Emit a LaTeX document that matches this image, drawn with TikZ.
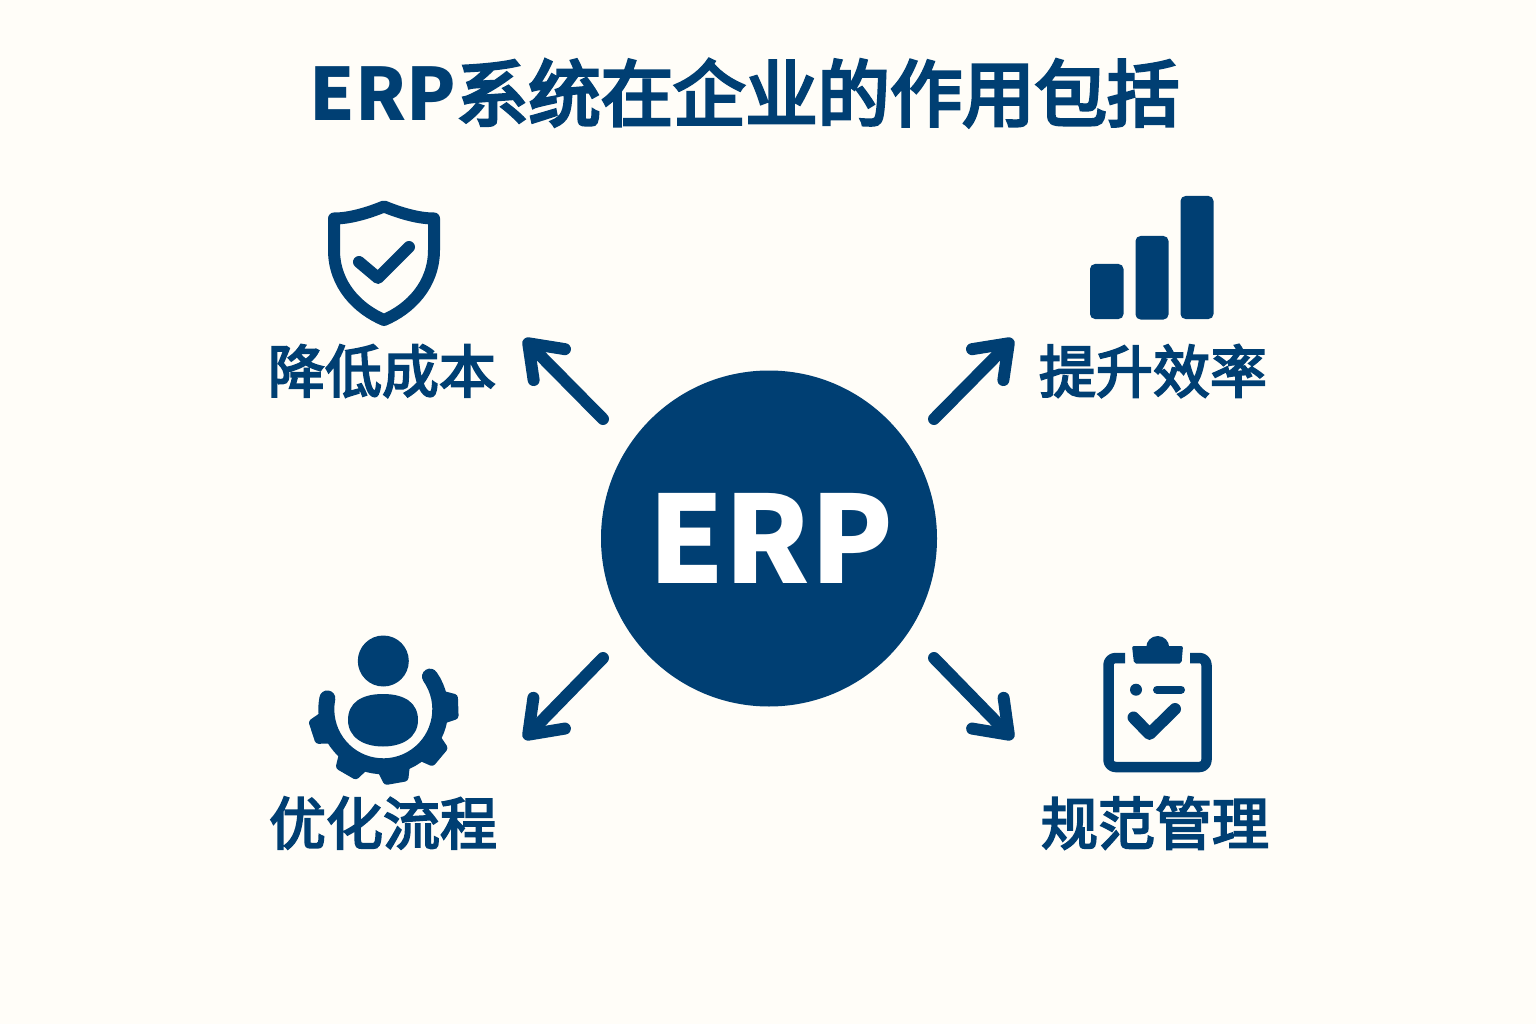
\documentclass[tikz,border=0pt]{standalone}
\usepackage{fontspec}
\usetikzlibrary{arrows.meta}
\newfontfamily\cjk[FakeBold=3.5]{Noto Sans CJK SC}
\newfontfamily\cjkt[FakeBold=4.5]{Noto Sans CJK SC}
\newfontfamily\cjkb{Noto Sans CJK SC}
\definecolor{navy}{HTML}{003F73}
\definecolor{paper}{HTML}{FFFDF8}
\tikzset{
  ink/.style={draw=navy,line width=12pt,line cap=round,line join=round},
  lbl/.style={text=navy,font=\cjk\fontsize{57}{60}\selectfont,inner sep=0pt},
  conn/.style={draw=navy,line width=12pt,line cap=round,-{Straight Barb[round,length=30pt,width=44pt]}},
  bar/.style={fill=navy,rounded corners=5pt},
  tooth/.style={fill=navy,rounded corners=3pt}
}
\begin{document}
\begin{tikzpicture}[x=1pt,y=-1pt]
\useasboundingbox (0,0) rectangle (1536,1024);
\fill[paper] (0,0) rectangle (1536,1024);
\node[text=navy,font=\cjkt\fontsize{72.3}{76}\selectfont,inner sep=0pt] (title) at (744.5,93) {{\cjkb\bfseries ERP}系统在企业的作用包括};
\node[circle,fill=navy,minimum size=336pt,inner sep=0pt] (erp) at (769,538.5) {};
\node[text=white,font=\cjkb\bfseries\fontsize{121}{130}\selectfont,inner sep=0pt] (erptext) at (771,538) {ERP};
\node[lbl] (cost) at (382,371) {降低成本};
\node[lbl] (eff) at (1153,371) {提升效率};
\node[lbl] (proc) at (383,823) {优化流程};
\node[lbl] (mgmt) at (1155,823) {规范管理};
% connectors
\coordinate (s1) at (603,419); \coordinate (t1) at (524,339);
\coordinate (s2) at (934,419); \coordinate (t2) at (1013,339);
\coordinate (s3) at (603,658); \coordinate (t3) at (524,739);
\coordinate (s4) at (934,658); \coordinate (t4) at (1013,739);
\draw[conn] (s1) -- (t1);
\draw[conn] (s2) -- (t2);
\draw[conn] (s3) -- (t3);
\draw[conn] (s4) -- (t4);
% shield
\draw[ink] (384,206.5) .. controls (368,213) and (350,218.5) .. (334,218.5) -- (334,250)
  .. controls (334,285) and (358,309) .. (384,320)
  .. controls (410,309) and (434,285) .. (434,250) -- (434,218.5)
  .. controls (418,218.5) and (400,213) .. (384,206.5) -- cycle;
\draw[ink] (359,262) -- (378,278) -- (409,247);
% bars
\fill[bar] (1090,264) rectangle (1123.5,319);
\fill[bar] (1135.5,236) rectangle (1168.5,319.5);
\fill[bar] (1180.5,196) rectangle (1213.5,319);
% gear person
\fill[navy] (383.3,661) ellipse[x radius=25.5,y radius=25.5];
\fill[navy] (383,694) .. controls (405,694) and (418,703) .. (418,720)
  .. controls (418,737) and (403,746.5) .. (383,746.5)
  .. controls (363,746.5) and (348,737) .. (348,720)
  .. controls (348,703) and (361,694) .. (383,694) -- cycle;
\begin{scope}[shift={(383.3,709.3)},yscale=-1]
  \draw[navy,line width=16pt,line cap=round] (35:57) arc[start angle=35,end angle=-191,radius=57];
  \foreach \a in {2,-40,-80,-120,-162}{
    \fill[tooth,rotate=-\a] (58,-17) -- (75,-12) -- (75,12) -- (58,17) -- cycle;
  }
\end{scope}
% clipboard
\draw[ink,line width=10.5pt,line cap=butt,rounded corners=7pt] (1125,658) -- (1108.5,658) -- (1108.5,767) -- (1206.5,767) -- (1206.5,658) -- (1190,658);
\fill[navy,rounded corners=2pt] (1132,646) -- (1183,646) -- (1181.5,663.5) -- (1134,663.5) -- cycle;
\fill[navy] (1157.7,647.5) circle[radius=11.5];
\fill[navy] (1136,689.7) circle[radius=6];
\draw[navy,line width=8pt,line cap=round] (1157,689.7) -- (1181,689.7);
\draw[ink] (1133.5,717.5) -- (1149.5,734) -- (1175,709);
\end{tikzpicture}
\end{document}
